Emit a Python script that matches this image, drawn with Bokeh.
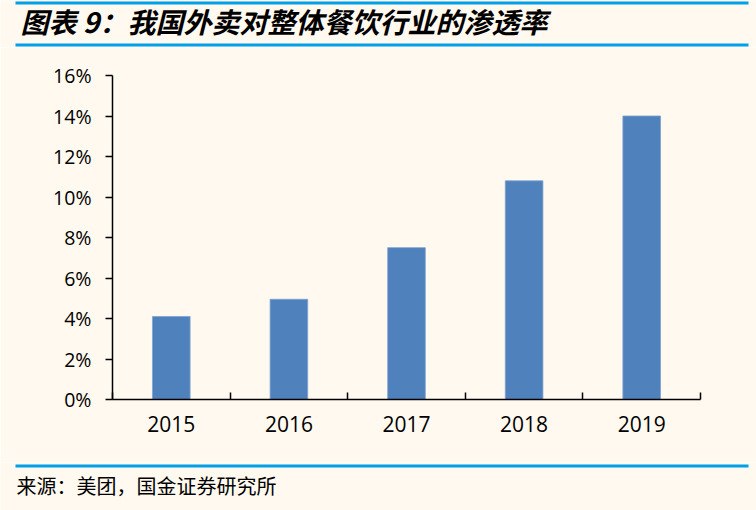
from bokeh.plotting import figure
from bokeh.layouts import column, row
from bokeh.models import Range1d, FixedTicker, PrintfTickFormatter, ColumnDataSource
from bokeh.core.properties import value
from bokeh.embed import file_html
from bokeh.resources import INLINE

# ---- data ----
years = ["2015", "2016", "2017", "2018", "2019"]
penetration = [4.1, 4.95, 7.5, 10.8, 14.0]  # percent
y_ticks = [0, 2, 4, 6, 8, 10, 12, 14, 16]
title_text = "图表 9：我国外卖对整体餐饮行业的渗透率"
source_text = "来源：美团，国金证券研究所"

BG = "#FFF9EF"
BAR = "#4F81BD"
RULE = "#00A0E9"
FONT = "Open Sans"
CJK = "Noto Sans CJK SC"
W = 756


def deco_figure(h):
    f = figure(width=W, height=h, output_backend="svg", toolbar_location=None,
               x_range=Range1d(0, W), y_range=Range1d(h, 0),
               x_axis_type=None, y_axis_type=None,
               min_border=0, min_border_left=0, min_border_right=0,
               min_border_top=0, min_border_bottom=0,
               background_fill_color=BG, border_fill_color=BG,
               outline_line_color=None)
    f.title.visible = False
    f.xgrid.visible = False
    f.ygrid.visible = False
    return f


# ---- header ----
head = deco_figure(47)
head.quad(left=[15], right=[748], top=[1], bottom=[4],
          fill_color=RULE, line_color=None)
head.quad(left=[15], right=[748], top=[43], bottom=[46],
          fill_color=RULE, line_color=None)
head.text(x=[20], y=[20], text=[title_text], text_font=value(CJK),
          text_font_size="28px", text_font_style="bold italic",
          text_color="#000000", text_baseline="middle", text_align="left")

# ---- main chart ----
positions = [i + 0.5 for i in range(len(years))]
src = ColumnDataSource(dict(x=positions, top=penetration, year=years))

p = figure(width=W, height=415, output_backend="svg", toolbar_location=None,
           x_range=Range1d(0, len(years)), y_range=Range1d(0, 16),
           min_border_left=112, min_border_right=56,
           min_border_top=28, min_border_bottom=63,
           background_fill_color=BG, border_fill_color=BG,
           outline_line_color=None)

p.vbar(x="x", top="top", width=0.32, source=src, fill_color=BAR,
       line_color="#7FA2CF", line_width=0.8)

p.xgrid.visible = False
p.ygrid.visible = False

yax = p.yaxis[0]
yax.ticker = FixedTicker(ticks=y_ticks)
yax.formatter = PrintfTickFormatter(format="%d%%")
yax.axis_line_color = "#000000"
yax.axis_line_width = 1.5
yax.major_tick_line_color = "#000000"
yax.major_tick_line_width = 1.5
yax.major_tick_in = 0
yax.major_tick_out = 7
yax.minor_tick_line_color = None
yax.major_label_text_font = FONT
yax.major_label_text_font_size = "19.5px"
yax.major_label_text_color = "#000000"
yax.major_label_standoff = 14

xax = p.xaxis[0]
xax.ticker = FixedTicker(ticks=positions,
                         minor_ticks=list(range(len(years) + 1)))
xax.major_label_overrides = {pos: y for pos, y in zip(positions, years)}
xax.axis_line_color = "#000000"
xax.axis_line_width = 1.5
xax.major_tick_line_color = None
xax.minor_tick_line_color = "#000000"
xax.minor_tick_line_width = 1.5
xax.minor_tick_in = 7
xax.minor_tick_out = 0
xax.major_label_text_font = FONT
xax.major_label_text_font_size = "21px"
xax.major_label_text_color = "#000000"
xax.major_label_standoff = 10

# ---- footer ----
foot = deco_figure(48)
foot.quad(left=[15], right=[748], top=[2], bottom=[5],
          fill_color=RULE, line_color=None)
foot.text(x=[16], y=[22.5], text=[source_text], text_font=value(CJK),
          text_font_size="20px", text_color="#000000",
          text_baseline="middle", text_align="left")

layout = column(row(head), row(p), row(foot), spacing=0)
open("out.html", "w").write(file_html(layout, INLINE))
